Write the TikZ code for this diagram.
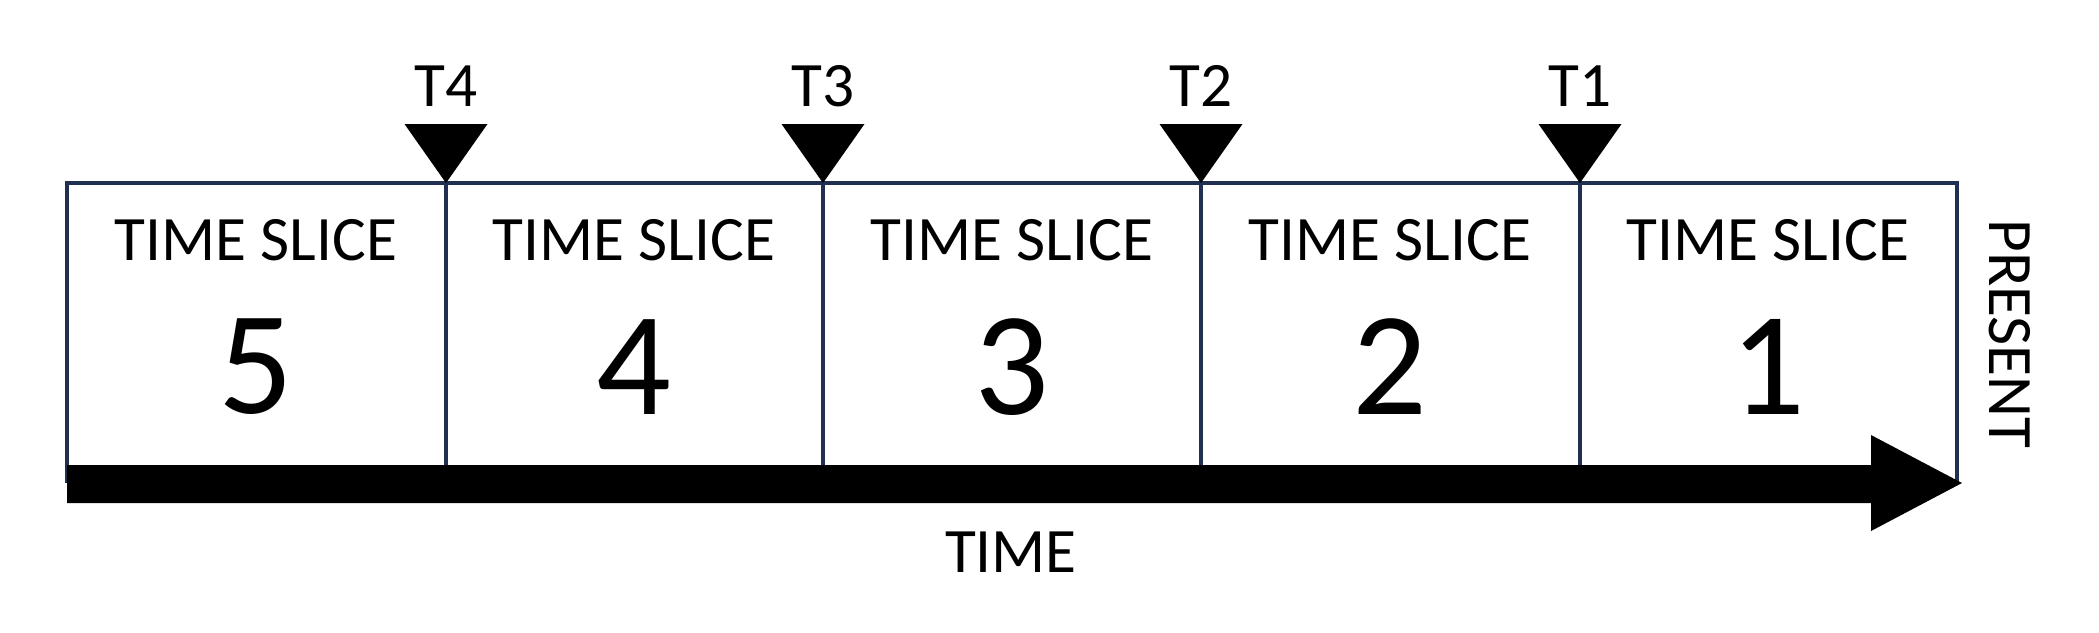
\documentclass[tikz,border=0pt]{standalone}
\usepackage{fontspec}
\setmainfont{Carlito}
\definecolor{boxline}{RGB}{31,48,80}
\tikzset{
	lbl/.style={font=\fontsize{18}{20}\selectfont, inner sep=0pt},
	num/.style={font=\fontsize{42}{46}\selectfont, inner sep=0pt},
	cell/.style={draw=boxline, line width=1.1pt},
}
\begin{document}
\begin{tikzpicture}[x=0.01cm,y=-0.01cm]
		\useasboundingbox (0,0) rectangle (2099,632);

		\draw[cell] (67,183) rectangle (1957,481);
		\foreach \i/\x in {1/1580,2/1201,3/823,4/446}{
			\draw[cell] (\x,183) -- (\x,481);
			\fill (\x-41.5,124) -- (\x+41.5,124) -- (\x,183) -- cycle;
			\node[lbl] (t\i) at (\x,86) {T\i};
		}

		\foreach \n/\x in {5/256,4/634,3/1012,2/1390,1/1768}{
			\node[lbl] (slice\n) at (\x,240) {TIME SLICE};
			\node[num] (num\n) at (\x,367) {\n};
		}

		% time arrow
		\fill (67,465) -- (1871,465) -- (1871,435) -- (1962,483)
			-- (1871,531) -- (1871,503) -- (67,503) -- cycle;
		\node[lbl] (time) at (1011,552) {TIME};
		\node[lbl, rotate=-90] (present) at (2010,334) {PRESENT};
	\end{tikzpicture}
\end{document}
